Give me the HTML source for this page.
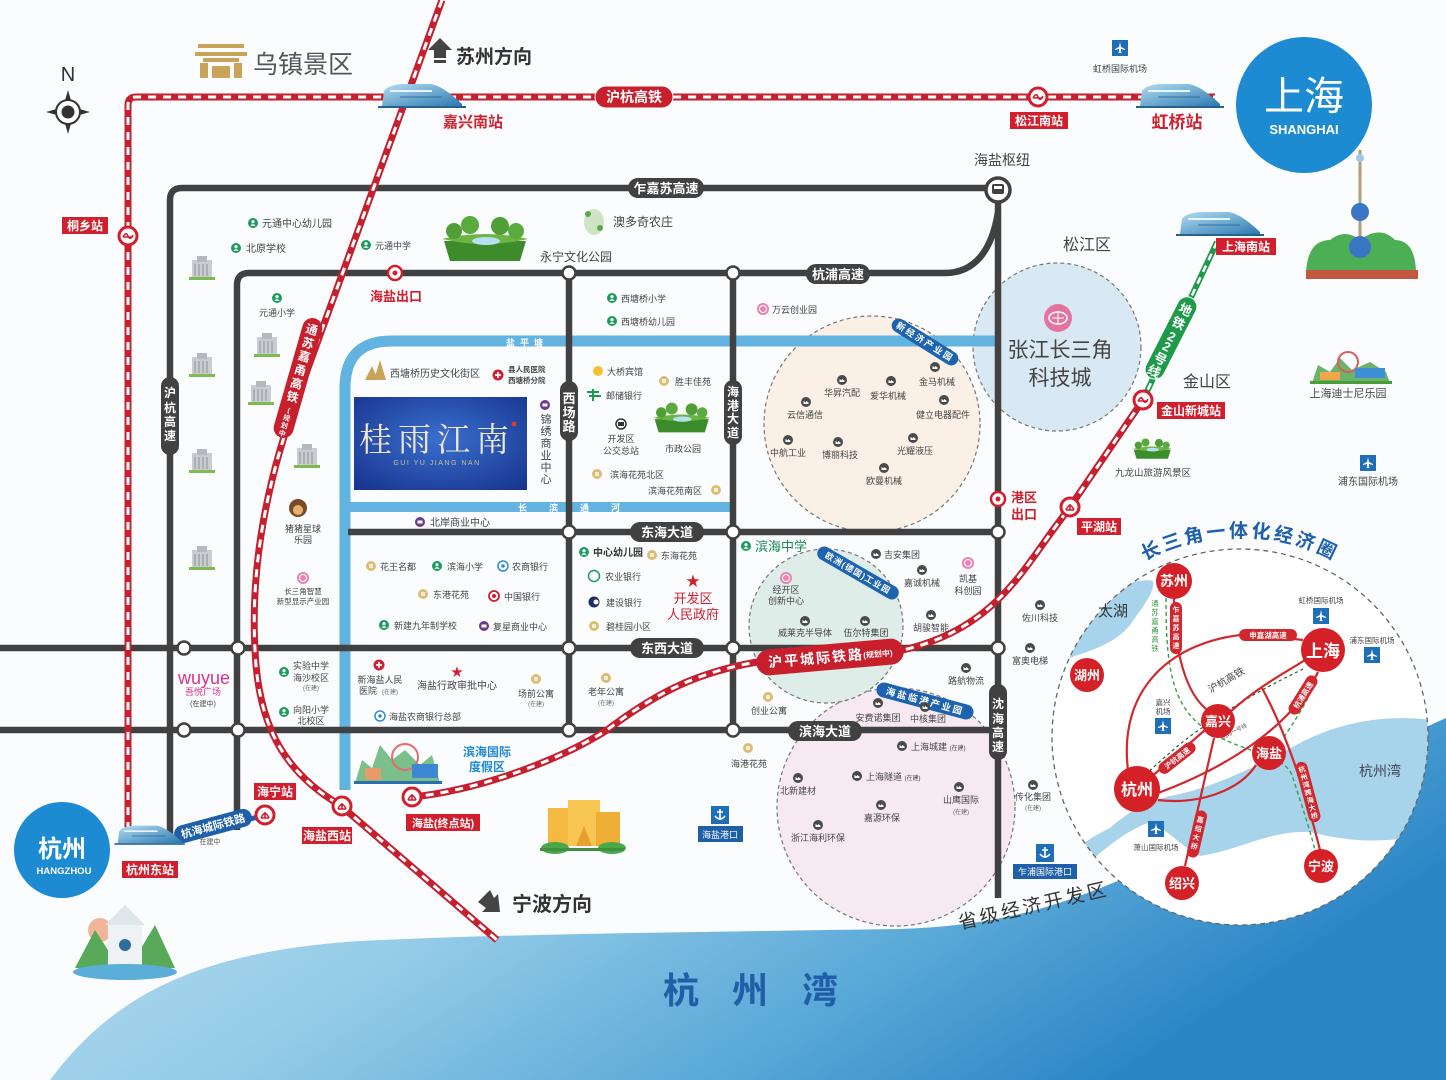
<!DOCTYPE html>
<html><head><meta charset="utf-8"><title>map</title>
<style>
html,body{margin:0;padding:0;background:#fbfcfd;width:1446px;height:1080px;overflow:hidden}
svg{display:block}
text{font-family:"Liberation Sans","Noto Sans CJK SC",sans-serif}
.a{font-size:9px;fill:#444;text-anchor:middle}
.b{font-size:10px;fill:#444}
.c{font-size:9px;fill:#444}
.w{fill:#fff;font-weight:bold;text-anchor:middle}
.r{fill:#d21f2d;font-weight:bold;text-anchor:middle}
.ty{font-size:6px;fill:#666;text-anchor:middle}
.rb{fill:#d21f2d}
</style></head><body>
<svg width="1446" height="1080" viewBox="0 0 1446 1080" xmlns="http://www.w3.org/2000/svg">
<defs>
<linearGradient id="sea" x1="0" y1="0" x2="1" y2="0.4"><stop offset="0" stop-color="#c8e4f3"/><stop offset=".45" stop-color="#93cbe7"/><stop offset=".75" stop-color="#5aa9d8"/><stop offset="1" stop-color="#2c86c6"/></linearGradient>
<linearGradient id="tg" x1="0" y1="0" x2="1" y2="1"><stop offset="0" stop-color="#b5def3"/><stop offset="1" stop-color="#2b78b0"/></linearGradient>
<radialGradient id="bx" cx=".5" cy=".45" r=".7"><stop offset="0" stop-color="#3a6fd0"/><stop offset="1" stop-color="#18368f"/></radialGradient>
<clipPath id="cc"><circle cx="1240" cy="737" r="188"/></clipPath>
<g id="ig"><circle r="5" fill="#1d9a5f"/><circle cy="-1.3" r="1.6" fill="#fff"/><path d="M-2.8,2.8 Q0,-0.6 2.8,2.8Z" fill="#fff"/></g>
<g id="it"><circle r="5" fill="#dcbd74"/><rect x="-2" y="-2" width="4" height="4" fill="#fff" opacity=".7"/></g>
<g id="ii"><circle r="5" fill="#4a4a4a"/><path d="M-2.5,2 L-2.5,-1 L0,0.5 L0,-1 L2.5,0.5 L2.5,2Z" fill="#fff"/></g>
<g id="ip"><circle r="6" fill="#e884b4"/><circle r="3.5" fill="none" stroke="#fff" stroke-width="1"/></g>
<g id="iu"><circle r="5" fill="#6b3b8c"/><rect x="-2.5" y="-1.5" width="5" height="3" fill="#fff"/></g>
<g id="ib"><circle r="5" fill="#fff" stroke="#2a8fd6" stroke-width="1.5"/><circle r="1.8" fill="#2a8fd6"/></g>
<g id="ix"><circle r="5.5" fill="#d21f2d"/><path d="M-3,0H3M0,-3V3" stroke="#fff" stroke-width="1.8"/></g>
<g id="ia"><rect x="-8" y="-8" width="16" height="16" fill="#1f6fb8"/><path d="M0,-6 L1,-1 L5,1 L5,2 L1,1 L0.8,4 L2,5 L-2,5 L-0.8,4 L-1,1 L-5,2 L-5,1 L-1,-1Z" fill="#fff"/></g>
<g id="anc"><rect x="-9" y="-9" width="18" height="18" fill="#1f6fb8"/><path d="M0,-6V5M-3,-3H3M-5,1Q0,7 5,1" stroke="#fff" stroke-width="1.6" fill="none"/></g>
<g id="st"><circle r="9" fill="#fff" stroke="#d21f2d" stroke-width="3"/><path d="M-4,3 Q0,-6 4,3 M-4,3 H4 M0,-3V3" stroke="#d21f2d" stroke-width="1.6" fill="none"/></g>
<g id="sm"><circle r="9" fill="#fff" stroke="#d21f2d" stroke-width="3"/><path d="M-5,1 Q-2,-5 0,0 Q2,5 5,-1 M-5,1 H5" stroke="#d21f2d" stroke-width="1.6" fill="none"/></g>
<g id="bd"><rect x="-10" y="-10" width="20" height="18" fill="#c9ccd0"/><rect x="-5" y="-14" width="10" height="6" fill="#b5b9be"/><path d="M-7,-6V6M-3,-6V6M1,-6V6M5,-6V6" stroke="#8d9297" stroke-width="1"/><rect x="-13" y="7" width="26" height="3" fill="#7dbb52"/></g>
<g id="train"><path d="M2,24 L4,9 Q8,3 22,2 L50,2 Q62,3 82,22 L82,24Z" fill="url(#tg)"/><path d="M10,9 L52,9" stroke="#e8f6fd" stroke-width="2"/><path d="M20,15 L62,15" stroke="#1d5e8f" stroke-width="1.2" opacity=".6"/><rect x="-2" y="24" width="88" height="2" fill="#26628f"/></g>
<g id="ex"><circle r="7" fill="#fff" stroke="#d21f2d" stroke-width="2.5"/><circle r="2.5" fill="#d21f2d"/></g>
<g id="park"><path d="M4,26 L86,26 L80,46 L10,46Z" fill="#3d8c2c"/><path d="M2,24 Q45,14 88,24 Q45,34 2,24Z" fill="#6ab543"/><circle cx="14" cy="16" r="8" fill="#4f9e36"/><circle cx="30" cy="10" r="9" fill="#5aab3d"/><circle cx="60" cy="11" r="9" fill="#4f9e36"/><circle cx="76" cy="16" r="8" fill="#5aab3d"/><ellipse cx="46" cy="26" rx="14" ry="4" fill="#b7dff2"/></g>
<g id="nd"><circle r="6.5" fill="#fff" stroke="#414141" stroke-width="2.5"/></g>
</defs>

<rect width="1446" height="1080" fill="#fbfcfd"/>

<!-- sea -->
<path d="M50,1080 C110,1000 190,952 360,941 C500,934 700,932 900,929 C1000,926 1060,905 1120,880 C1250,830 1350,760 1446,718 L1446,1080 Z" fill="url(#sea)"/>
<text x="681" y="1003" font-size="36" font-weight="bold" fill="#1f5fa8" text-anchor="middle">杭</text>
<text x="750" y="1003" font-size="36" font-weight="bold" fill="#1f5fa8" text-anchor="middle">州</text>
<text x="820" y="1003" font-size="36" font-weight="bold" fill="#1f5fa8" text-anchor="middle">湾</text>

<!-- zone circles -->
<circle cx="872" cy="424" r="108" fill="#faf0e5" stroke="#777" stroke-width="1.2" stroke-dasharray="4 3"/>
<circle cx="1057" cy="347" r="84" fill="#d9e9f4" stroke="#777" stroke-width="1.2" stroke-dasharray="4 3"/>
<circle cx="896" cy="807" r="119" fill="#f6e9f1" stroke="#777" stroke-width="1.2" stroke-dasharray="4 3"/>
<circle cx="826" cy="626" r="77" fill="#deede8" stroke="#777" stroke-width="1.2" stroke-dasharray="4 3"/>

<!-- canals -->
<path d="M345,790 L345,388 Q345,341 392,341 L998,341" stroke="#62b3e0" stroke-width="11" fill="none"/>
<path d="M345,507 L733,507" stroke="#62b3e0" stroke-width="10" fill="none"/>
<text x="527" y="346" font-size="9" fill="#fff" font-weight="bold" text-anchor="middle" letter-spacing="5">盐平塘</text>
<text x="580" y="511" font-size="9" fill="#fff" font-weight="bold" text-anchor="middle" letter-spacing="22">长滨通河</text>

<!-- roads -->
<g stroke="#414141" stroke-width="6.5" fill="none">
<path d="M170,840 L170,200 Q170,188 182,188 L998,188"/>
<path d="M998,188 L998,898"/>
<path d="M237,830 L237,285 Q237,273 249,273 L945,273 C975,273 992,250 998,212"/>
<path d="M569,273 L569,730"/>
<path d="M733,273 L733,730"/>
<path d="M348,532 L998,532"/>
<path d="M0,648 L998,648"/>
<path d="M0,730 L998,730"/>
</g>
<g>
<use href="#nd" x="569" y="273"/><use href="#nd" x="733" y="273"/>
<use href="#nd" x="569" y="532"/><use href="#nd" x="733" y="532"/><use href="#nd" x="998" y="532"/>
<use href="#nd" x="569" y="648"/><use href="#nd" x="733" y="648"/><use href="#nd" x="998" y="648"/>
<use href="#nd" x="184" y="648"/><use href="#nd" x="238" y="648"/>
<use href="#nd" x="184" y="730"/><use href="#nd" x="238" y="730"/>
<use href="#nd" x="569" y="730"/><use href="#nd" x="733" y="730"/>
</g>

<!-- red rails -->
<g fill="none">
<path d="M128,830 L128,105 Q128,97 136,97 L1215,97" stroke="#c61f2e" stroke-width="7"/>
<path d="M128,830 L128,105 Q128,97 136,97 L1215,97" stroke="#fff" stroke-width="3" stroke-dasharray="8 7"/>
<path d="M442,0 L300,390 C270,470 250,560 255,650 C258,720 280,770 340,805 L497,940" stroke="#c61f2e" stroke-width="7"/>
<path d="M442,0 L300,390 C270,470 250,560 255,650 C258,720 280,770 340,805 L497,940" stroke="#fff" stroke-width="3" stroke-dasharray="8 7"/>
<path d="M1143,400 L1070,507 L1053,530 C1020,575 990,630 903,650 C860,660 800,655 757,662 C700,672 660,690 607,730 C560,760 480,790 412,797" stroke="#c61f2e" stroke-width="7"/>
<path d="M1143,400 L1070,507 L1053,530 C1020,575 990,630 903,650 C860,660 800,655 757,662 C700,672 660,690 607,730 C560,760 480,790 412,797" stroke="#fff" stroke-width="3" stroke-dasharray="8 7"/>
<path d="M1217,242 L1143,400" stroke="#1f9a4b" stroke-width="6"/>
<path d="M1217,242 L1143,400" stroke="#fff" stroke-width="2.5" stroke-dasharray="7 6"/>
<path d="M180,838 L265,815" stroke="#1d5fa8" stroke-width="5"/>
</g>

<!-- road pills -->
<g>
<rect x="628" y="178" width="76" height="20" rx="10" fill="#414141"/><text x="666" y="193" class="w" font-size="13">乍嘉苏高速</text>
<rect x="806" y="264" width="64" height="20" rx="10" fill="#414141"/><text x="838" y="279" class="w" font-size="13">杭浦高速</text>
<rect x="630" y="522" width="74" height="20" rx="10" fill="#414141"/><text x="667" y="537" class="w" font-size="13">东海大道</text>
<rect x="630" y="638" width="74" height="20" rx="10" fill="#414141"/><text x="667" y="653" class="w" font-size="13">东西大道</text>
<rect x="788" y="721" width="74" height="20" rx="10" fill="#414141"/><text x="825" y="736" class="w" font-size="13">滨海大道</text>
<rect x="161" y="377" width="18" height="78" rx="9" fill="#414141"/>
<text class="w" font-size="12"><tspan x="170" y="397">沪</tspan><tspan x="170" y="412">杭</tspan><tspan x="170" y="426">高</tspan><tspan x="170" y="440">速</tspan></text>
<rect x="560" y="381" width="18" height="60" rx="9" fill="#414141"/>
<text class="w" font-size="13"><tspan x="569" y="403">西</tspan><tspan x="569" y="417">场</tspan><tspan x="569" y="431">路</tspan></text>
<rect x="724" y="380" width="18" height="65" rx="9" fill="#414141"/>
<text class="w" font-size="12"><tspan x="733" y="396">海</tspan><tspan x="733" y="410">港</tspan><tspan x="733" y="423">大</tspan><tspan x="733" y="437">道</tspan></text>
<rect x="989" y="684" width="18" height="76" rx="9" fill="#414141"/>
<text class="w" font-size="12"><tspan x="998" y="708">沈</tspan><tspan x="998" y="723">海</tspan><tspan x="998" y="737">高</tspan><tspan x="998" y="751">速</tspan></text>
</g>

<!-- hub -->
<circle cx="998" cy="190" r="12" fill="#fff" stroke="#414141" stroke-width="3.5"/>
<rect x="992" y="184" width="12" height="10" rx="2" fill="#414141"/><rect x="994" y="186" width="8" height="3" fill="#fff"/>
<text x="1002" y="165" font-size="14" fill="#444" text-anchor="middle">海盐枢纽</text>

<!-- rail pills & labels -->
<rect x="595" y="86" width="78" height="22" rx="11" fill="#c81f2d" stroke="#fff" stroke-width="1"/><text x="634" y="102" class="w" font-size="14">沪杭高铁</text>
<g transform="translate(298,378) rotate(16)">
<rect x="-10" y="-62" width="20" height="124" rx="10" fill="#c81f2d"/>
<text class="w" font-size="12"><tspan x="0" y="-46">通</tspan><tspan x="0" y="-32">苏</tspan><tspan x="0" y="-18">嘉</tspan><tspan x="0" y="-4">甬</tspan><tspan x="0" y="10">高</tspan><tspan x="0" y="24">铁</tspan></text>
<text class="w" font-size="7" font-weight="normal"><tspan x="0" y="36">(</tspan><tspan x="0" y="44">规</tspan><tspan x="0" y="52">划</tspan><tspan x="0" y="60">中</tspan></text>
</g>
<g transform="translate(1171,338) rotate(27)">
<rect x="-10" y="-45" width="20" height="90" rx="10" fill="#1f9a4b" stroke="#fff" stroke-width="1"/>
<text class="w" font-size="13"><tspan x="0" y="-27">地</tspan><tspan x="0" y="-12">铁</tspan><tspan x="0" y="3">2</tspan><tspan x="0" y="14">2</tspan><tspan x="0" y="28">号</tspan><tspan x="0" y="42">线</tspan></text>
</g>
<g transform="translate(830,657) rotate(-5)">
<rect x="-74" y="-13" width="148" height="26" rx="13" fill="#c81f2d"/>
<text x="-14" y="5" class="w" font-size="14" letter-spacing="2">沪平城际铁路</text>
<text x="48" y="4" class="w" font-size="8" font-weight="normal">(规划中)</text>
</g>
<g transform="translate(213,826) rotate(-15)">
<rect x="-40" y="-9" width="80" height="18" rx="9" fill="#1d5fa8"/>
<text x="0" y="4" class="w" font-size="11">杭海城际铁路</text>
</g>
<text x="210" y="844" font-size="7" fill="#555" text-anchor="middle">在建中</text>

<!-- stations -->
<use href="#sm" x="128" y="236"/>
<rect x="62" y="217" width="46" height="17" class="rb"/><text x="85" y="230" class="w" font-size="12">桐乡站</text>
<use href="#sm" x="1038" y="97"/>
<rect x="1010" y="112" width="58" height="17" class="rb"/><text x="1039" y="125" class="w" font-size="12">松江南站</text>
<use href="#sm" x="1143" y="400"/>
<rect x="1157" y="402" width="68" height="17" class="rb"/><text x="1191" y="415" class="w" font-size="12">金山新城站</text>
<use href="#st" x="1070" y="507"/>
<rect x="1077" y="518" width="44" height="17" class="rb"/><text x="1099" y="531" class="w" font-size="12">平湖站</text>
<use href="#st" x="412" y="797"/>
<rect x="406" y="814" width="74" height="17" class="rb"/><text x="443" y="827" class="w" font-size="11">海盐(终点站)</text>
<use href="#st" x="342" y="806"/>
<rect x="302" y="827" width="50" height="17" class="rb"/><text x="327" y="840" class="w" font-size="12">海盐西站</text>
<use href="#st" x="265" y="815"/>
<rect x="254" y="783" width="42" height="17" class="rb"/><text x="275" y="796" class="w" font-size="12">海宁站</text>
<rect x="122" y="861" width="56" height="17" class="rb"/><text x="150" y="874" class="w" font-size="12">杭州东站</text>
<rect x="1216" y="238" width="60" height="17" class="rb"/><text x="1246" y="251" class="w" font-size="12">上海南站</text>

<!-- trains -->
<use href="#train" x="380" y="82"/>
<use href="#train" x="1138" y="82"/>
<use href="#train" x="1178" y="210"/>
<g transform="translate(116,824) scale(.8)"><use href="#train"/></g>
<text x="473" y="127" class="r" font-size="15">嘉兴南站</text>
<text x="1177" y="128" class="r" font-size="17">虹桥站</text>
<use href="#ia" x="1120" y="48"/>
<text x="1120" y="72" font-size="9" fill="#444" text-anchor="middle">虹桥国际机场</text>

<!-- exits -->
<use href="#ex" x="395" y="273"/>
<text x="396" y="301" class="r" font-size="13">海盐出口</text>
<use href="#ex" x="998" y="499"/>
<text x="1024" y="502" class="r" font-size="13">港区</text>
<text x="1024" y="519" class="r" font-size="13">出口</text>

<!-- top left -->
<g transform="translate(68,112)">
<path d="M0,-22 L-4,-8 L4,-8Z M0,22 L-4,8 L4,8Z M22,0 L8,-4 L8,4Z M-22,0 L-8,-4 L-8,4Z" fill="#333"/>
<circle r="12" fill="#fff" stroke="#333" stroke-width="2"/><circle r="6.5" fill="#333"/>
</g>
<text x="68" y="81" font-size="20" fill="#333" text-anchor="middle">N</text>
<g fill="#c9a35a">
<rect x="198" y="44" width="46" height="4"/><rect x="195" y="52" width="52" height="4"/><rect x="203" y="58" width="36" height="4"/>
<rect x="200" y="63" width="8" height="15"/><rect x="234" y="63" width="8" height="15"/><rect x="212" y="66" width="18" height="12"/>
</g>
<text x="253" y="73" font-size="25" fill="#555">乌镇景区</text>
<path d="M434,58 L434,50 L428,50 L440,38 L452,50 L446,50 L446,58Z" fill="#444"/>
<rect x="434" y="60" width="12" height="3" fill="#444"/>
<text x="456" y="63" font-size="19" font-weight="bold" fill="#333">苏州方向</text>

<!-- Shanghai -->
<circle cx="1304" cy="105" r="68" fill="#1c8bd1"/>
<text x="1304" y="110" font-size="40" fill="#fff" text-anchor="middle">上海</text>
<text x="1304" y="134" font-size="13" font-weight="bold" fill="#fff" text-anchor="middle">SHANGHAI</text>
<path d="M1360,150 L1360,275" stroke="#b0a070" stroke-width="3"/>
<circle cx="1360" cy="158" r="4" fill="#9fc9e6"/>
<path d="M1306,272 Q1308,240 1330,240 Q1345,228 1360,240 Q1380,225 1395,240 Q1415,240 1416,272Z" fill="#4cae55"/>
<circle cx="1360" cy="212" r="9" fill="#3a76c4"/><circle cx="1360" cy="247" r="11" fill="#3a76c4"/>
<rect x="1306" y="270" width="112" height="9" fill="#c4583f"/>
<text x="1087" y="250" font-size="16" fill="#444" text-anchor="middle">松江区</text>
<text x="1207" y="387" font-size="16" fill="#444" text-anchor="middle">金山区</text>
<g transform="translate(1132,438) scale(.45)"><use href="#park"/></g>
<text x="1153" y="476" font-size="9.5" fill="#444" text-anchor="middle">九龙山旅游风景区</text>
<g>
<path d="M1312,383 L1318,365 L1330,372 L1340,358 L1352,370 L1370,362 L1386,372 L1390,383Z" fill="#6bb36a"/>
<circle cx="1348" cy="362" r="10" fill="none" stroke="#e05a5a" stroke-width="2"/>
<rect x="1355" y="368" width="30" height="10" fill="#3d8fd8"/><rect x="1320" y="372" width="20" height="8" fill="#f2a649"/>
<rect x="1310" y="381" width="82" height="3" fill="#4a9e3a"/>
</g>
<text x="1348" y="397" font-size="11" fill="#444" text-anchor="middle">上海迪士尼乐园</text>
<use href="#ia" x="1368" y="463"/>
<text x="1368" y="485" font-size="10" fill="#444" text-anchor="middle">浦东国际机场</text>

<!-- zhangjiang -->
<circle cx="1058" cy="318" r="14" fill="#e4749f"/><ellipse cx="1058" cy="318" rx="9" ry="6" fill="none" stroke="#fff" stroke-width="1.5"/><path d="M1052,318 H1064 M1058,312 V324" stroke="#fff" stroke-width="1"/>
<text x="1060" y="357" font-size="21" fill="#444" text-anchor="middle">张江长三角</text>
<text x="1060" y="385" font-size="21" fill="#444" text-anchor="middle">科技城</text>

<!-- left area -->
<use href="#bd" x="202" y="270"/><use href="#bd" x="202" y="367"/><use href="#bd" x="202" y="463"/><use href="#bd" x="202" y="560"/>
<use href="#bd" x="267" y="347"/><use href="#bd" x="261" y="395"/><use href="#bd" x="307" y="458"/>
<use href="#ig" x="253" y="223"/><text x="262" y="227" class="b">元通中心幼儿园</text>
<use href="#ig" x="236" y="248"/><text x="246" y="252" class="b">北原学校</text>
<use href="#ig" x="366" y="245"/><text x="375" y="249" class="c">元通中学</text>
<use href="#ig" x="277" y="298"/><text x="277" y="316" class="a">元通小学</text>
<circle cx="298" cy="508" r="9" fill="#7a4a2a"/><circle cx="298" cy="510" r="5" fill="#e8b070"/>
<text x="303" y="532" class="a">猪猪星球</text><text x="303" y="543" class="a">乐园</text>
<use href="#ip" x="303" y="578"/>
<text x="303" y="594" font-size="7.5" fill="#444" text-anchor="middle">长三角智慧</text>
<text x="303" y="604" font-size="7.5" fill="#444" text-anchor="middle">新型显示产业园</text>
<text x="204" y="684" font-size="18" fill="#d6338f" text-anchor="middle">wuyue</text>
<text x="203" y="695" font-size="9" fill="#d6338f" text-anchor="middle">吾悦广场</text>
<text x="203" y="706" font-size="7" fill="#444" text-anchor="middle">(在建中)</text>
<use href="#ig" x="284" y="672"/>
<text x="311" y="669" class="a">实验中学</text><text x="311" y="681" class="a">海沙校区</text><text x="311" y="690" class="ty">(在建)</text>
<use href="#ig" x="284" y="712"/>
<text x="311" y="713" class="a">向阳小学</text><text x="311" y="724" class="a">北校区</text>

<!-- upper middle -->
<use href="#park" x="440" y="215"/>
<text x="576" y="261" font-size="12" fill="#444" text-anchor="middle">永宁文化公园</text>
<g><ellipse cx="594" cy="222" rx="10" ry="13" fill="#cfe3c5"/><circle cx="588" cy="214" r="3" fill="#5aa84a"/><circle cx="600" cy="228" r="3" fill="#5aa84a"/></g>
<text x="613" y="226" font-size="12" fill="#444">澳多奇农庄</text>
<use href="#ig" x="612" y="298"/><text x="621" y="302" class="c">西塘桥小学</text>
<use href="#ig" x="612" y="321"/><text x="621" y="325" class="c">西塘桥幼儿园</text>
<use href="#ip" x="763" y="309"/><text x="772" y="313" class="c">万云创业园</text>

<!-- project block -->
<path d="M365,380 L372,366 L378,380Z M374,380 L380,360 L386,380Z" fill="#c9a35a"/>
<text x="390" y="377" class="b">西塘桥历史文化街区</text>
<use href="#ix" x="498" y="375"/>
<text x="508" y="372" font-size="7.5" font-weight="bold" fill="#444">县人民医院</text>
<text x="508" y="383" font-size="7.5" font-weight="bold" fill="#444">西塘桥分院</text>
<rect x="354" y="397" width="173" height="93" fill="url(#bx)"/>
<text x="437" y="451" font-size="33" fill="#efe7cf" text-anchor="middle" letter-spacing="6" style="font-family:'Noto Serif CJK SC','Liberation Serif',serif">桂雨江南</text>
<text x="437" y="465" font-size="7" fill="#cdbf90" text-anchor="middle" letter-spacing="1.5">GUI YU JIANG NAN</text>
<circle cx="514" cy="424" r="2.5" fill="#d63a3a"/>
<use href="#iu" x="545" y="405"/>
<text font-size="11" fill="#444" text-anchor="middle"><tspan x="546" y="423">锦</tspan><tspan x="546" y="435">绣</tspan><tspan x="546" y="447">商</tspan><tspan x="546" y="459">业</tspan><tspan x="546" y="471">中</tspan><tspan x="546" y="483">心</tspan></text>
<circle cx="598" cy="371" r="5" fill="#f2c230"/><text x="607" y="375" class="c">大桥宾馆</text>
<use href="#it" x="664" y="381"/><text x="675" y="385" class="c">胜丰佳苑</text>
<path d="M587,392 H599 M589,396 H601 M593,389 V401" stroke="#1d9a4b" stroke-width="2"/><text x="606" y="399" class="c">邮储银行</text>
<circle cx="621" cy="424" r="5" fill="#fff" stroke="#333" stroke-width="1.5"/><rect x="618" y="422" width="6" height="4" fill="#333"/>
<text x="621" y="442" class="a">开发区</text><text x="621" y="454" class="a">公交总站</text>
<g transform="translate(652,402) scale(.66)"><use href="#park"/></g>
<text x="683" y="452" class="a">市政公园</text>
<use href="#it" x="597" y="474"/><text x="610" y="478" class="c">滨海花苑北区</text>
<text x="648" y="494" class="c">滨海花苑南区</text><use href="#it" x="716" y="490"/>
<use href="#iu" x="420" y="522"/><text x="430" y="526" class="b">北岸商业中心</text>
<use href="#it" x="371" y="566"/><text x="380" y="570" class="c">花王名都</text>
<use href="#ig" x="437" y="566"/><text x="447" y="570" class="c">滨海小学</text>
<use href="#ib" x="503" y="566"/><text x="512" y="570" class="c">农商银行</text>
<use href="#it" x="423" y="594"/><text x="433" y="598" class="c">东港花苑</text>
<circle cx="494" cy="596" r="5" fill="#fff" stroke="#d21f2d" stroke-width="1.8"/><circle cx="494" cy="596" r="2" fill="#d21f2d"/><text x="504" y="600" class="c">中国银行</text>
<use href="#ig" x="384" y="625"/><text x="394" y="629" class="c">新建九年制学校</text>
<use href="#iu" x="484" y="626"/><text x="493" y="630" class="c">复星商业中心</text>
<use href="#ig" x="584" y="552"/><text x="593" y="556" font-size="10" font-weight="bold" fill="#333">中心幼儿园</text>
<use href="#it" x="652" y="555"/><text x="661" y="559" class="c">东海花苑</text>
<circle cx="594" cy="576" r="5.5" fill="none" stroke="#1d9a5f" stroke-width="1.5"/><text x="605" y="580" class="c">农业银行</text>
<circle cx="594" cy="602" r="5.5" fill="#1b2e6b"/><circle cx="596" cy="602" r="2.5" fill="#fff"/><text x="606" y="606" class="c">建设银行</text>
<use href="#it" x="594" y="626"/><text x="606" y="630" class="c">碧桂园小区</text>
<text x="693" y="586" font-size="14" fill="#d21f2d" text-anchor="middle">★</text>
<text x="693" y="603" font-size="13" fill="#d21f2d" text-anchor="middle">开发区</text>
<text x="693" y="619" font-size="13" fill="#d21f2d" text-anchor="middle">人民政府</text>

<!-- row between 648 and 730 -->
<use href="#ix" x="379" y="665"/>
<text x="380" y="683" class="a">新海盐人民</text><text x="368" y="694" class="a">医院</text><text x="390" y="694" class="ty">(在建)</text>
<text x="457" y="676" font-size="12" fill="#d21f2d" text-anchor="middle">★</text>
<text x="457" y="689" font-size="10" fill="#444" text-anchor="middle">海盐行政审批中心</text>
<use href="#it" x="536" y="679"/><text x="536" y="697" class="a">场前公寓</text><text x="536" y="706" class="ty">(在建)</text>
<use href="#it" x="606" y="678"/><text x="606" y="695" class="a">老年公寓</text><text x="606" y="705" class="ty">(在建)</text>
<use href="#ib" x="380" y="716"/><text x="389" y="720" class="c">海盐农商银行总部</text>
<use href="#it" x="768" y="697"/><text x="769" y="714" class="a">创业公寓</text>
<use href="#it" x="748" y="748"/><text x="749" y="767" class="a">海港花苑</text>

<!-- resort -->
<g>
<path d="M355,783 L362,760 L372,768 L380,745 L392,760 L405,750 L420,765 L432,755 L440,783Z" fill="#7bbf8a"/>
<circle cx="405" cy="757" r="13" fill="none" stroke="#e86a6a" stroke-width="2"/>
<rect x="412" y="764" width="26" height="14" fill="#3d86d4"/><rect x="365" y="768" width="16" height="12" fill="#e59c6a"/>
<rect x="354" y="781" width="88" height="3" fill="#2b6fb0"/>
</g>
<text x="487" y="756" font-size="12" font-weight="bold" fill="#1e8ad0" text-anchor="middle">滨海国际</text>
<text x="487" y="771" font-size="12" font-weight="bold" fill="#1e8ad0" text-anchor="middle">度假区</text>

<!-- yellow buildings -->
<g>
<rect x="548" y="808" width="24" height="38" fill="#f5b942"/><rect x="568" y="800" width="32" height="46" fill="#f7c653"/><rect x="596" y="812" width="24" height="34" fill="#efae35"/>
<path d="M576,846 L584,826 L592,846Z" fill="#e8a030"/>
<ellipse cx="555" cy="848" rx="14" ry="6" fill="#4aa84a"/><ellipse cx="612" cy="848" rx="14" ry="6" fill="#4aa84a"/>
<rect x="540" y="848" width="84" height="3" fill="#3e8f3e"/>
</g>
<use href="#anc" x="720" y="815"/>
<rect x="698" y="826" width="45" height="16" fill="#1d5fa8"/><text x="720" y="838" font-size="9" fill="#fff" text-anchor="middle">海盐港口</text>

<!-- direction -->
<path d="M484,896 L490,890 L494,898 L498,894 L500,912 L482,912 L486,908 L478,902Z" fill="#444"/>
<text x="512" y="911" font-size="20" font-weight="bold" fill="#333">宁波方向</text>

<!-- hangzhou -->
<circle cx="62" cy="850" r="48" fill="#1c8bd1"/>
<text x="62" y="857" font-size="24" fill="#fff" text-anchor="middle" font-weight="bold">杭州</text>
<text x="64" y="874" font-size="9.5" font-weight="bold" fill="#fff" text-anchor="middle">HANGZHOU</text>
<g>
<circle cx="100" cy="930" r="12" fill="#f1b59a"/>
<path d="M75,968 L95,930 L108,950 L125,905 L140,950 L155,925 L175,968Z" fill="#58aa58"/>
<rect x="108" y="925" width="34" height="45" fill="#eef2f4"/>
<path d="M105,925 L125,905 L145,925Z" fill="#dfe6ea"/><circle cx="125" cy="945" r="6" fill="#2d6e9e"/>
<ellipse cx="125" cy="972" rx="52" ry="8" fill="#5aaed8"/>
</g>

<!-- zone 1 -->
<g transform="translate(925,342) rotate(32)"><rect x="-38" y="-7" width="76" height="14" rx="7" fill="#1d63b0"/><text x="0" y="3" class="w" font-size="9" letter-spacing="2">新经济产业园</text></g>
<use href="#ii" x="935" y="367"/><text x="937" y="385" class="a">金马机械</text>
<use href="#ii" x="842" y="380"/><text x="842" y="396" class="a">华昇汽配</text>
<use href="#ii" x="891" y="381"/><text x="888" y="399" class="a">爱华机械</text>
<use href="#ii" x="806" y="402"/><text x="805" y="418" class="a">云信通信</text>
<use href="#ii" x="944" y="400"/><text x="943" y="418" class="a">健立电器配件</text>
<use href="#ii" x="788" y="440"/><text x="788" y="456" class="a">中航工业</text>
<use href="#ii" x="838" y="442"/><text x="840" y="458" class="a">博丽科技</text>
<use href="#ii" x="913" y="438"/><text x="915" y="454" class="a">光耀液压</text>
<use href="#ii" x="884" y="468"/><text x="884" y="484" class="a">欧曼机械</text>

<!-- zone 2 -->
<g transform="translate(858,573) rotate(30)"><rect x="-46" y="-7" width="92" height="14" rx="7" fill="#1d63b0"/><text x="0" y="3" class="w" font-size="8.5" letter-spacing="1">欧洲(德国)工业园</text></g>
<use href="#ig" x="746" y="546"/><text x="755" y="551" font-size="13" fill="#1a8a55">滨海中学</text>
<use href="#ip" x="786" y="578"/><text x="786" y="593" class="a">经开区</text><text x="786" y="604" class="a">创新中心</text>
<use href="#ii" x="805" y="621"/><text x="805" y="636" class="a">威莱克半导体</text>
<use href="#ii" x="865" y="621"/><text x="866" y="636" class="a">伍尔特集团</text>
<use href="#ii" x="876" y="554"/><text x="884" y="558" class="c">吉安集团</text>
<use href="#ii" x="922" y="570"/><text x="922" y="586" class="a">嘉诚机械</text>
<use href="#ip" x="968" y="563"/><text x="968" y="582" class="a">凯基</text><text x="968" y="594" class="a">科创园</text>
<use href="#ii" x="931" y="615"/><text x="931" y="631" class="a">胡骏智能</text>
<use href="#ii" x="1040" y="605"/><text x="1040" y="621" class="a">佐川科技</text>
<use href="#ii" x="1030" y="648"/><text x="1030" y="664" class="a">富奥电梯</text>
<use href="#ii" x="966" y="668"/><text x="966" y="684" class="a">路航物流</text>

<!-- zone 3 -->
<g transform="translate(925,701) rotate(15)"><rect x="-50" y="-7.5" width="100" height="15" rx="7.5" fill="#1d63b0"/><text x="0" y="3.5" class="w" font-size="9.5" letter-spacing="2">海盐临港产业园</text></g>
<use href="#ii" x="878" y="703"/><text x="878" y="721" class="a">安费诺集团</text>
<use href="#ii" x="925" y="707"/><text x="928" y="722" class="a">中核集团</text>
<use href="#ii" x="902" y="746"/><text x="911" y="750" class="c">上海城建 <tspan font-size="6">(在建)</tspan></text>
<use href="#ii" x="857" y="776"/><text x="866" y="780" class="c">上海隧道 <tspan font-size="6">(在建)</tspan></text>
<use href="#ii" x="798" y="778"/><text x="798" y="794" class="a">北新建材</text>
<use href="#ii" x="959" y="787"/><text x="961" y="803" class="a">山鹰国际</text><text x="961" y="814" class="ty">(在建)</text>
<use href="#ii" x="881" y="805"/><text x="882" y="821" class="a">嘉源环保</text>
<use href="#ii" x="818" y="825"/><text x="818" y="841" class="a">浙江海利环保</text>
<use href="#ii" x="1033" y="785"/><text x="1033" y="800" class="a">传化集团</text><text x="1033" y="810" class="ty">(在建)</text>
<use href="#anc" x="1045" y="853"/>
<rect x="1013" y="864" width="64" height="15" fill="#1d5fa8"/><text x="1045" y="875" font-size="9" fill="#fff" text-anchor="middle">乍浦国际港口</text>
<text x="1035" y="912" transform="rotate(-13 1035 912)" font-size="19" fill="#333" text-anchor="middle" letter-spacing="3">省级经济开发区</text>

<!-- inset -->
<circle cx="1240" cy="737" r="188" fill="#fff"/>
<g clip-path="url(#cc)">
<path d="M1060,860 C1080,845 1095,835 1110,828 C1130,810 1150,800 1175,795 C1210,788 1250,770 1300,743 C1340,722 1390,712 1446,722 L1446,830 C1400,842 1360,845 1310,832 C1270,830 1240,850 1200,856 C1180,845 1165,828 1150,822 C1130,830 1110,842 1080,872 Z" fill="#a7d3eb"/>
<path d="M1040,660 C1060,640 1080,625 1105,598 C1120,585 1140,578 1153,581 C1156,592 1140,610 1130,625 C1118,640 1100,648 1075,656 C1060,662 1048,664 1040,660 Z" fill="#a7d3eb"/>
</g>
<circle cx="1240" cy="737" r="188" fill="none" stroke="#666" stroke-width="1.3" stroke-dasharray="5 4"/>
<path id="arc" d="M1040,737 A200,200 0 0 1 1440,737" fill="none"/>
<text font-size="19" font-weight="bold" fill="#1e5fae" letter-spacing="3"><textPath href="#arc" startOffset="50%" text-anchor="middle">长三角一体化经济圈</textPath></text>
<text x="1113" y="616" font-size="15" fill="#333" text-anchor="middle">太湖</text>
<text x="1380" y="776" font-size="14" fill="#445" text-anchor="middle">杭州湾</text>

<g fill="none" stroke="#3aa048" stroke-width="1.4" stroke-dasharray="4 3">
<path d="M1166,598 C1166,660 1170,700 1200,725 C1240,755 1280,750 1292,775 C1300,800 1310,830 1315,850"/>
<path d="M1318,672 C1310,700 1295,720 1282,740"/>
</g>
<g fill="none" stroke="#2e5a36" stroke-width="1.2" stroke-dasharray="3 3">
<path d="M1145,775 C1170,752 1190,735 1205,726"/>
<path d="M1232,708 C1260,690 1285,678 1305,668"/>
</g>
<g fill="none" stroke="#d0282e" stroke-width="2.2">
<path d="M1174,596 C1174,650 1185,695 1210,712"/>
<path d="M1128,770 C1118,690 1170,640 1250,634 L1303,640"/>
<path d="M1150,778 L1205,730"/>
<path d="M1230,712 C1260,685 1290,670 1305,660"/>
<path d="M1158,793 C1220,770 1290,730 1318,672"/>
<path d="M1158,800 C1200,805 1240,790 1256,765"/>
<path d="M1214,738 L1185,866"/>
<path d="M1262,688 C1285,730 1305,790 1320,850"/>
</g>
<g transform="translate(1176,628)"><rect x="-6" y="-26" width="12" height="52" rx="6" fill="#d0282e"/><text class="w" font-size="7"><tspan x="0" y="-16">乍</tspan><tspan x="0" y="-7">嘉</tspan><tspan x="0" y="2">苏</tspan><tspan x="0" y="11">高</tspan><tspan x="0" y="20">速</tspan></text></g>
<g transform="translate(1268,635)"><rect x="-29" y="-6" width="58" height="12" rx="6" fill="#d0282e"/><text x="0" y="3" class="w" font-size="7.5">申嘉湖高速</text></g>
<g transform="translate(1177,758) rotate(-38)"><rect x="-22" y="-6" width="44" height="12" rx="6" fill="#d0282e"/><text x="0" y="3" class="w" font-size="7.5">沪杭高速</text></g>
<g transform="translate(1303,695) rotate(-58)"><rect x="-22" y="-6" width="44" height="12" rx="6" fill="#d0282e"/><text x="0" y="3" class="w" font-size="7.5">杭浦高速</text></g>
<g transform="translate(1197,834) rotate(13)"><rect x="-6" y="-24" width="12" height="48" rx="6" fill="#d0282e"/><text class="w" font-size="7"><tspan x="0" y="-12">嘉</tspan><tspan x="0" y="-3">绍</tspan><tspan x="0" y="6">大</tspan><tspan x="0" y="15">桥</tspan></text></g>
<g transform="translate(1308,792) rotate(-15)"><rect x="-6" y="-31" width="12" height="62" rx="6" fill="#d0282e"/><text class="w" font-size="7"><tspan x="0" y="-21">杭</tspan><tspan x="0" y="-13">州</tspan><tspan x="0" y="-5">湾</tspan><tspan x="0" y="3">跨</tspan><tspan x="0" y="11">海</tspan><tspan x="0" y="19">大</tspan><tspan x="0" y="27">桥</tspan></text></g>
<text font-size="7.5" fill="#2f9a3a" text-anchor="middle"><tspan x="1155" y="606">通</tspan><tspan x="1155" y="615">苏</tspan><tspan x="1155" y="624">嘉</tspan><tspan x="1155" y="633">甬</tspan><tspan x="1155" y="642">高</tspan><tspan x="1155" y="651">铁</tspan></text>
<text x="1228" y="683" transform="rotate(-30 1228 683)" font-size="10" fill="#444" text-anchor="middle">沪杭高铁</text>
<text x="1235" y="733" transform="rotate(-28 1235 733)" font-size="5.5" fill="#555" text-anchor="middle">机场一号线</text>

<use href="#ia" x="1321" y="616"/><text x="1321" y="603" font-size="7.5" fill="#444" text-anchor="middle">虹桥国际机场</text>
<use href="#ia" x="1372" y="655"/><text x="1372" y="643" font-size="7.5" fill="#444" text-anchor="middle">浦东国际机场</text>
<use href="#ia" x="1163" y="726"/><text x="1163" y="705" font-size="7.5" fill="#444" text-anchor="middle">嘉兴</text><text x="1163" y="714" font-size="7.5" fill="#444" text-anchor="middle">机场</text>
<use href="#ia" x="1156" y="829"/><text x="1156" y="850" font-size="7.5" fill="#444" text-anchor="middle">萧山国际机场</text>

<g font-weight="bold" fill="#fff" text-anchor="middle">
<circle cx="1087" cy="675" r="17" fill="#d42027"/><text x="1087" y="680" font-size="13">湖州</text>
<circle cx="1174" cy="581" r="18" fill="#d42027"/><text x="1174" y="586" font-size="14">苏州</text>
<circle cx="1323" cy="650" r="22" fill="#d42027"/><text x="1323" y="657" font-size="17">上海</text>
<circle cx="1218" cy="721" r="17" fill="#d42027"/><text x="1218" y="726" font-size="13">嘉兴</text>
<circle cx="1269" cy="753" r="17" fill="#d42027"/><text x="1269" y="758" font-size="13">海盐</text>
<circle cx="1137" cy="789" r="23" fill="#d42027"/><text x="1137" y="795" font-size="16">杭州</text>
<circle cx="1182" cy="883" r="17" fill="#d42027"/><text x="1182" y="888" font-size="13">绍兴</text>
<circle cx="1321" cy="866" r="17" fill="#d42027"/><text x="1321" y="871" font-size="13">宁波</text>
</g>
</svg>
</body></html>
